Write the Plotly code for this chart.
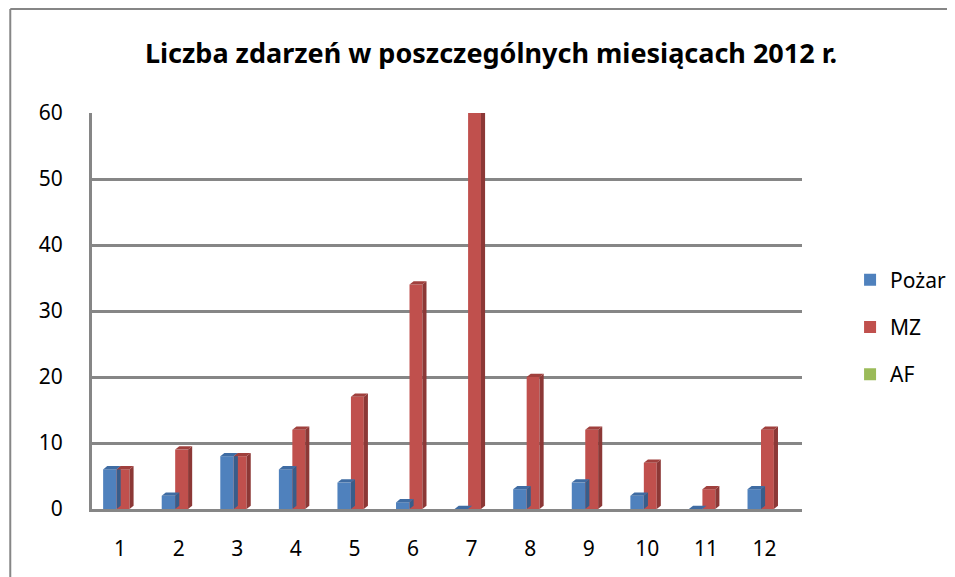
import plotly.graph_objects as go

months = [1, 2, 3, 4, 5, 6, 7, 8, 9, 10, 11, 12]
month_labels = ["1", "2", "3", "4", "5", "6", "7", "8", "9", "10", "11", "12"]
pozar = [6, 2, 8, 6, 4, 1, 0, 3, 4, 2, 0, 3]
mz = [6, 9, 8, 12, 17, 34, 60, 20, 12, 7, 3, 12]
af = [0, 0, 0, 0, 0, 0, 0, 0, 0, 0, 0, 0]
y_ticks = [0, 10, 20, 30, 40, 50, 60]

series = [
    ("Pożar", pozar, "#4F81BD", "#385D8A", "#3F6CA3", -0.29, 0.23),
    ("MZ", mz, "#C0504D", "#8C3836", "#A0403D", -0.06, 0.22),
    ("AF", af, "#9BBB59", "#71893F", "#86A44A", 0.16, 0.22),
]

DX = 0.07   # depth in x units
DY = 0.5    # depth in y units

fig = go.Figure()
shapes = []
for name, vals, col, side, top, off, w in series:
    fig.add_trace(go.Bar(
        x=months, y=vals, name=name, offset=off, width=w,
        marker=dict(color=col, line=dict(width=0)),
        legendgroup=name,
    ))
    if name == "AF":
        continue
    for m, v in zip(months, vals):
        x0 = m + off
        x1 = x0 + w
        if v > 0:
            shapes.append(dict(
                type="path", xref="x", yref="y", layer="above",
                path=f"M {x1},{0} L {x1},{v} L {x1+DX},{v+DY} L {x1+DX},{DY} Z",
                fillcolor=side, line=dict(width=0)))
        shapes.append(dict(
            type="path", xref="x", yref="y", layer="above",
            path=f"M {x0},{v} L {x1},{v} L {x1+DX},{v+DY} L {x0+DX},{v+DY} Z",
            fillcolor=top, line=dict(width=0)))

W, H = 955, 577
L, R, T, B = 84, 150, 105, 76
pw, ph = W - L - R, H - T - B
# outer chart border along the figure edge
bx0 = (1 - L) / pw
by1 = (ph + T - 1) / ph
shapes.append(dict(type="line", xref="paper", yref="paper",
                   x0=bx0, x1=(W - L) / pw, y0=by1, y1=by1,
                   line=dict(color="#868686", width=2)))
shapes.append(dict(type="line", xref="paper", yref="paper",
                   x0=bx0, x1=bx0, y0=by1, y1=-B / ph,
                   line=dict(color="#868686", width=2)))

fig.update_layout(
    width=W, height=H,
    margin=dict(l=L, r=R, t=T, b=B),
    paper_bgcolor="white", plot_bgcolor="white",
    font=dict(family="Noto Sans", color="black"),
    title=dict(text="<b>Liczba zdarzeń w poszczególnych miesiącach 2012 r.</b>",
               x=483 / W, xref="container", y=1 - 46 / H, yref="container",
               xanchor="center", yanchor="middle",
               font=dict(size=27, family="Noto Sans", color="black")),
    barmode="overlay",
    showlegend=True,
    legend=dict(x=1.0677, xanchor="left", y=(ph + T - 251.5) / ph, yanchor="top",
                font=dict(size=21), tracegroupgap=17,
                itemwidth=30),
    shapes=shapes,
    xaxis=dict(range=[0.52, 12.64], tickvals=months, ticktext=month_labels,
               showgrid=False, showline=True, linecolor="#868686", linewidth=3,
               ticks="", tickfont=dict(size=21), zeroline=False, ticklabelstandoff=19),
    yaxis=dict(range=[0, 60], tickvals=y_ticks, showgrid=True,
               gridcolor="#868686", gridwidth=3, showline=True,
               linecolor="#868686", linewidth=3, ticks="",
               tickfont=dict(size=21), zeroline=False, ticklabelstandoff=22),
)

fig.write_html("out.html")
